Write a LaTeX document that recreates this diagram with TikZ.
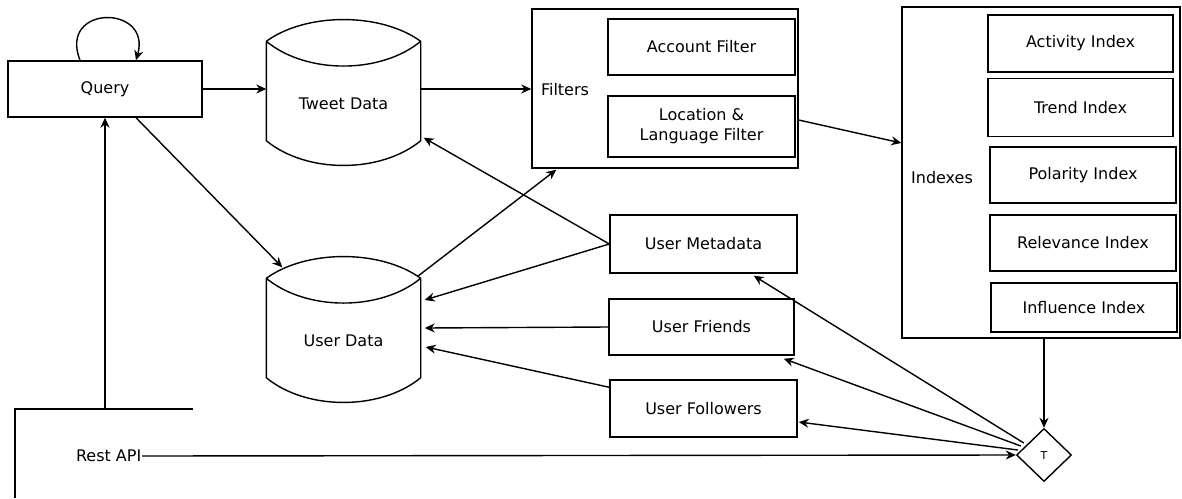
\documentclass[tikz,border=0pt]{standalone}
\usepackage{fontspec}
\setmainfont{DejaVu Sans}
\usetikzlibrary{arrows.meta,calc,shapes.geometric}

% database drum drawn around a node: lens-shaped lid and curved base
\newcommand\dbdraw[1]{%
  \draw (#1.north west) .. controls +(40,-29) and +(-40,-29) .. (#1.north east)
        (#1.north west) .. controls +(40,33) and +(-40,33) .. (#1.north east)
        (#1.north west) -- ($(#1.south west)+(0,-25)$)
          .. controls +(40,33) and +(-40,33) .. ($(#1.south east)+(0,-25)$)
          -- (#1.north east);}

\begin{document}
\begin{tikzpicture}[x=1pt,y=-1pt,line width=1.4pt,
  font=\fontsize{16}{20}\selectfont,
  box/.style={draw,rectangle,inner sep=0pt,align=center},
  drum/.style={rectangle,inner sep=0pt,minimum width=153pt,minimum height=123pt},
  arr/.style={-{Stealth[length=10pt,width=9pt]}}]
\useasboundingbox (0,0) rectangle (1182,498);

% sources and stores
\node[box,minimum width=194pt,minimum height=56pt] (q) at (105,89) {Query};
\node[drum] (td) at (343.5,103.5) {Tweet Data};
\node[drum] (ud) at (343.5,340.5) {User Data};
\dbdraw{td}
\dbdraw{ud}

% filter stage
\node[box,minimum width=266pt,minimum height=159pt] (fb) at (665,88.5) {};
\node (fl) at (565,90) {Filters};
\node[box,minimum width=187pt,minimum height=56pt] (af) at (701.5,47) {Account Filter};
\node[box,minimum width=187pt,minimum height=61pt] (lf) at (701.5,126.5) {Location \&\\Language Filter};

% index stage
\node[box,minimum width=278pt,minimum height=331pt] (ix) at (1041,172.5) {};
\node (il) at (942,178) {Indexes};
\node[box,minimum width=185pt,minimum height=57pt] (ai) at (1080.5,43.5) {Activity Index};
\node[box,minimum width=185pt,minimum height=58pt] (ti) at (1080.5,107.5) {Trend Index};
\node[box,minimum width=186pt,minimum height=56pt] (pi) at (1083,175) {Polarity Index};
\node[box,minimum width=186pt,minimum height=56pt] (ri) at (1083,243) {Relevance Index};
\node[box,minimum width=186pt,minimum height=49pt] (ii) at (1084,307.5) {Influence Index};

% user information
\node[box,minimum width=187pt,minimum height=58pt] (um) at (703.5,244) {User Metadata};
\node[box,minimum width=185pt,minimum height=56pt] (uf) at (701.5,327) {User Friends};
\node[box,minimum width=187pt,minimum height=57pt] (uo) at (703.5,408.5) {User Followers};

% trigger
\node[draw,diamond,aspect=1,minimum width=55pt,minimum height=53pt,inner sep=0pt,
      font=\fontsize{11}{13}\selectfont] (t) at (1044,455) {T};

% Rest API block
\node[inner sep=0pt,anchor=east] (ra) at (142,456) {Rest API};
\coordinate (rtop) at (105,409);
\draw (15,498) -- (15,409) -- (193,409);

% connectors
\draw[arr] ($(q.north)+(-25,0)$) .. controls +(-22,-56) and +(16,-56) .. ($(q.north)+(31,0)$);
\draw[arr] (q.east) -- (q.east -| td.west);
\draw[arr] ($(q.south)+(31,0)$) -- ($(ud.north west)+(16,-11)$);
\draw[arr] (td.east |- q.east) -- (fb.west |- q.east);
\draw[arr] ($(ud.north east)+(-3,-2)$) -- ($(fb.south west)+(25,1)$);
\draw[arr] (um.west) -- ($(td.south east)+(3,-28)$);
\draw[arr] (um.west) -- ($(ud.east)+(4,-40.5)$);
\draw[arr] (uf.west) -- ($(ud.east)+(4,-12.5)$);
\draw[arr] ($(uo.north west)+(0,8)$) -- ($(ud.east)+(5,6.5)$);
\draw[arr] ($(fb.east)+(0,31.5)$) -- ($(ix.west)+(0,-29.5)$);
\draw[arr] (t.north |- ix.south) -- (t.north);
\draw[arr] ($(t.west)+(8,-12)$) -- ($(um.south east)+(-44,2)$);
\draw[arr] ($(t.west)+(5,-9)$) -- ($(uf.south east)+(-11,3)$);
\draw[arr] ($(t.west)+(2,-5)$) -- ($(uo.east)+(1,13.5)$);
\draw[arr] (ra.east) -- (t.west);
\draw[arr] (rtop) -- (q.south);
\end{tikzpicture}
\end{document}
